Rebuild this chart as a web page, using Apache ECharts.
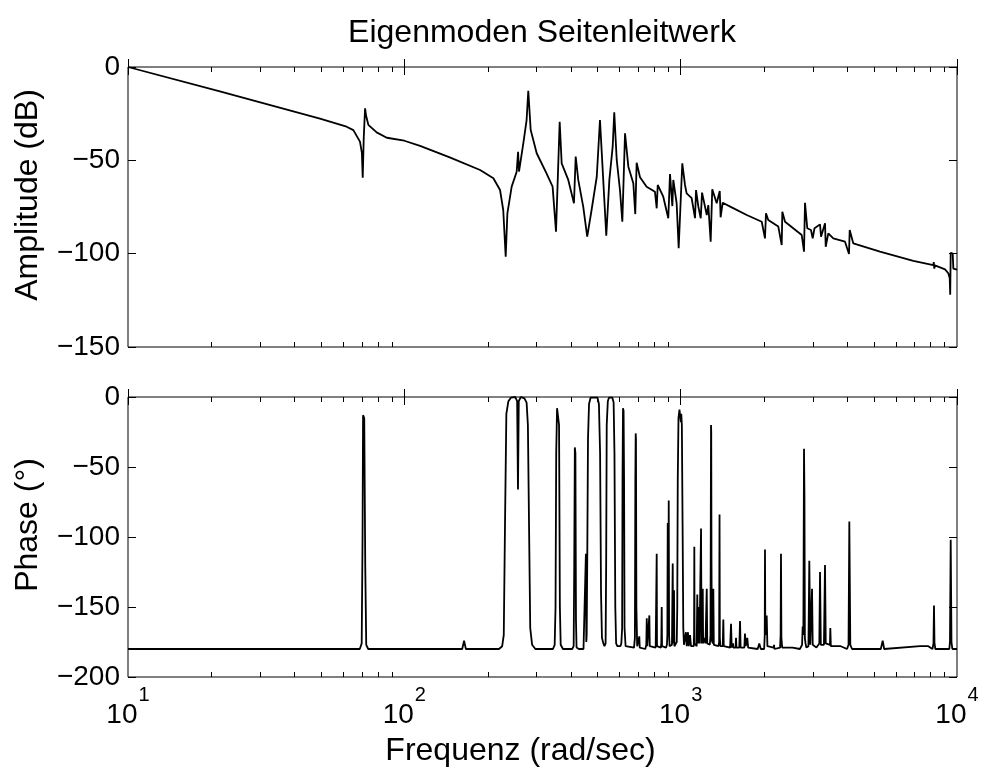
<!DOCTYPE html>
<html>
<head>
<meta charset="utf-8">
<script src="https://cdn.jsdelivr.net/npm/echarts@6/dist/echarts.min.js"></script>
<style>
html,body{margin:0;padding:0;background:#fff;}
#chart{width:982px;height:773px;}
</style>
</head>
<body>
<div id="chart"></div>
<script>
// ---- data ----
const ampFreq = [10,21.5,49.5,61.8,65.4,69.1,70.2,70.7,71.3,72.1,72.7,74.1,79.4,86.4,100,114,146,188,210,222,228,232.7,236,244.6,255,258,260,269.5,277,280.9,286.6,301.3,327,344,353.9,364.9,371,392,411,417,426,444,459,476,497,510.5,538,552,567.5,575,587,603,615,629,646.6,674,685,693,712.7,753,807,819,826,865,902,915,933,940.5,967,983.5,1013.6,1036.7,1051,1096,1127,1136.7,1158.7,1182,1195,1243,1259,1284,1301,1350,1385,1395,1419,1530,1734,1965,2019,2036,2075,2256,2321,2333,2386,2742,2795,2818,2872,2962,3005,3050,3194,3221,3330,3349,3422,3567,3933,4066,4090,4215,5264,6950,8207,8240,8277,8320,9050,9301,9410,9450,9489,9649,9700,10000];
const ampDb = [0,-13,-27.6,-32,-33.8,-40,-46,-59.3,-38,-22.1,-26,-31,-35,-37.9,-39.5,-42.3,-48.4,-55.2,-59.6,-65.9,-76.6,-101.6,-78.4,-64.1,-56.1,-45.4,-56,-40.9,-28.4,-12.7,-33.8,-46.2,-57,-64.1,-88.2,-29.3,-51.6,-60.5,-73,-48,-60.5,-74.8,-90.9,-76.6,-58.8,-28.4,-90.4,-60.5,-42.7,-24.3,-49.8,-65.9,-82.9,-35.5,-53.4,-62.3,-78.8,-51.3,-59.1,-64.1,-66.8,-75.7,-63.2,-69.5,-81,-57.3,-74.5,-60.5,-73,-97.1,-51.6,-63.2,-67.7,-70.3,-81,-65.9,-74.8,-81,-67.3,-79.3,-74,-93.6,-65.5,-73,-66.4,-80.5,-72.7,-75.2,-79.3,-82.9,-91.8,-78.4,-82,-85.5,-95.4,-77.5,-82.9,-90,-98.9,-72.7,-86.4,-87.3,-91.8,-86.4,-84.3,-90.9,-83.7,-96.3,-89.1,-91.8,-93.6,-100.2,-87.3,-94.5,-98.9,-103.8,-106.1,-104.5,-108,-106.3,-108.4,-110.5,-113,-122,-99.5,-100,-108,-108.5];

const phaseFreq = [10,69,70.1,70.6,70.9,71.6,72.2,72.8,74,162,164.5,167,220,226,229,231.4,234,238,243,252,256,257.8,259.5,264,272,277,280,282.6,285.5,290,298,345,350,352.5,354.5,357,360,363,365.5,368,375,405,410,412,414,416,418,420,428,445,452,454,455.5,457,459,462,466,472,500,506,511,515,519,525,530,535,537.5,540,545,550,566,572,576,580,584,590,605,610,614,616,618.5,621.5,624,626.5,632,678,683,685.5,687.5,689,691.5,696,705,708.4,711,745,751,753.9,757,766,770.3,773,812,817,819,821,848,851,853.9,856,885,892,895,897.8,900,902.5,905.3,908,912,925,930,935.9,939,943,946.1,949,960,968,972,976,982,990,996,1002,1005,1010,1016,1022,1028,1038,1045,1052,1063,1070,1081,1090,1115,1118,1120.5,1123,1143,1148.6,1153,1160,1165,1170,1180,1185,1190,1198,1202,1206,1220,1230,1242.6,1248,1275,1282,1285,1287.9,1290,1293,1297,1308,1312.7,1318,1370,1378,1382.5,1386,1392,1420,1426.9,1432,1510,1521.5,1530,1547,1552,1580,1586,1592,1630,1640,1648,1700,1709,1720,1742,1755,1900,1925,1950,2005,2015,2019,2025,2048,2060,2170,2177,2185,2290,2300,2307,2315,2330,2540,2560,2580,2700,2750,2764,2780,2795,2805,2815,2830,2850,2900,2921,2945,2965,2988,3005,3100,3133,3175,3194,3215,3300,3329,3350,3470,3480,3495,3650,3796,4000,4050,4077,4110,4170,5300,5384,5450,7348,7875,8150,8220,8255,8290,8350,9380,9430,9489,9550,9620,10000];
const phaseDeg = [-180,-180,-176,-100,-13,-15,-120,-177,-180,-180,-174,-180,-180,-178,-170,-90,-12,-3,-0.5,0,-3,-66,-3,0,-1,-4,-20,-90,-165,-177,-180,-180,-177,-150,-40,-8,-7,-20,-150,-177,-180,-180,-178,-120,-36,-40,-160,-179,-180,-180,-179,-112,-175,-170,-120,-30,-5,-0.5,-0.5,-5,-40,-140,-172,-176,-178,-176,-120,-20,-3,-0.5,-0.5,-4,-40,-150,-176,-178,-178,-176,-165,-60,-8,-10,-60,-165,-178,-179,-172,-60,-26,-30,-150,-178,-179,-171,-179,-180,-177,-158,-178,-178,-156,-178,-179,-178,-112,-178,-179,-176,-150,-178,-179,-177,-170,-90,-168,-170,-74,-170,-178,-178,-177,-119,-176,-176,-138,-178,-179,-175,-150,-60,-15,-9,-9,-18,-12,-20,-90,-165,-177,-178,-168,-178,-168,-178,-170,-178,-178,-170,-107,-176,-178,-141,-176,-175,-150,-176,-177,-94,-176,-175,-137,-176,-172,-176,-137,-176,-177,-170,-100,-20,-25,-120,-174,-176,-137,-177,-178,-175,-84,-172,-178,-178,-159,-178,-179,-162,-179,-176,-179,-179,-172,-179,-179,-160,-179,-179,-169,-178,-172,-179,-180,-176,-180,-180,-170,-109,-170,-156,-178,-179,-177,-180,-179,-170,-112,-172,-179,-179,-178,-179,-180,-177,-164,-170,-37,-70,-172,-176,-179,-178,-117,-177,-176,-137,-177,-179,-178,-176,-125,-177,-177,-120,-176,-177,-165,-178,-178,-178,-180,-177,-89,-177,-180,-180,-174,-180,-178,-178,-180,-176,-149,-176,-180,-180,-175,-102,-175,-180,-180];

const majorTicks = [10, 100, 1000, 10000];
const minorTicks = [20,30,40,50,60,70,80,90,200,300,400,500,600,700,800,900,2000,3000,4000,5000,6000,7000,8000,9000];
const ampTicks = [-150, -100, -50, 0];
const phaseTicks = [-200, -150, -100, -50, 0];

const titleText = 'Eigenmoden Seitenleitwerk';
const ampLabel = 'Amplitude (dB)';
const phaseLabel = 'Phase (°)';
const freqLabel = 'Frequenz (rad/sec)';

// ---- chart ----
const FONT = '"Liberation Sans", Arial, Helvetica, sans-serif';
const TICK_FS = 28;
const LABEL_FS = 32;
const chart = echarts.init(document.getElementById('chart'), null, {renderer: 'canvas'});

function zip(a, b) { return a.map((v, i) => [v, b[i]]); }
function minus(v) { return v < 0 ? '\u2212' + (-v) : String(v); }

const gridBase = {left: 128, width: 829, height: 280, show: true, borderColor: '#000', borderWidth: 1, backgroundColor: '#fff', containLabel: false, outerBoundsMode: 'none'};

function xAx(gridIndex, position, showLabels, name) {
  return {
    type: 'log', logBase: 10, min: majorTicks[0], max: majorTicks[majorTicks.length - 1],
    gridIndex: gridIndex, position: position,
    axisLine: {show: false},
    axisTick: {show: true, inside: true, length: 8, lineStyle: {color: '#000', width: 1}},
    splitLine: {show: false},
    axisLabel: showLabels ? {
      show: true, margin: 8, color: '#000', fontFamily: FONT,
      formatter: function (v) { return '{b|10}{s|' + Math.round(Math.log10(v)) + '}'; },
      rich: {
        b: {fontSize: TICK_FS, fontFamily: FONT, color: '#000', lineHeight: 44, verticalAlign: 'bottom'},
        s: {fontSize: 20, fontFamily: FONT, color: '#000', verticalAlign: 'top', lineHeight: 20, padding: [0, 0, 0, 1]}
      }
    } : {show: false},
    name: name || '', nameLocation: 'middle', nameGap: 58,
    nameTextStyle: {fontSize: LABEL_FS, fontFamily: FONT, color: '#000', padding: [0, 44, 0, 0]}
  };
}

function yAx(gridIndex, position, ticks, showLabels, name) {
  return {
    type: 'value', min: ticks[0], max: ticks[ticks.length - 1], interval: 50,
    gridIndex: gridIndex, position: position,
    axisLine: {show: false},
    axisTick: {show: true, inside: true, length: 8, lineStyle: {color: '#000', width: 1}},
    splitLine: {show: false},
    axisLabel: showLabels ? {show: true, margin: 8, fontSize: TICK_FS, fontFamily: FONT, color: '#000', formatter: minus} : {show: false},
    name: name || '', nameLocation: 'middle', nameGap: 84, nameRotate: 90,
    nameTextStyle: {fontSize: LABEL_FS, fontFamily: FONT, color: '#000', padding: [0, 0, 0, 24]}
  };
}

function minorSeries(xi, yi, yMin) {
  return {
    type: 'custom', xAxisIndex: xi, yAxisIndex: yi, silent: true, clip: false, z: 5,
    data: minorTicks.map(v => [v, yMin]),
    renderItem: function (params, api) {
      const p = api.coord([api.value(0), api.value(1)]);
      const cs = params.coordSys;
      const x = Math.round(p[0]) + 0.5;
      const yb = cs.y + cs.height, yt = cs.y;
      return {type: 'group', children: [
        {type: 'line', shape: {x1: x, y1: yb, x2: x, y2: yb - 5}, style: {stroke: '#000', lineWidth: 1}},
        {type: 'line', shape: {x1: x, y1: yt, x2: x, y2: yt + 5}, style: {stroke: '#000', lineWidth: 1}}
      ]};
    }
  };
}

const option = {
  backgroundColor: '#fff',
  animation: false,
  title: {
    text: titleText, left: 537, top: 12, textAlign: 'center',
    textStyle: {fontSize: LABEL_FS, fontWeight: 'normal', fontFamily: FONT, color: '#000'}
  },
  grid: [
    Object.assign({}, gridBase, {top: 67}),
    Object.assign({}, gridBase, {top: 397})
  ],
  xAxis: [
    xAx(0, 'bottom', false),
    xAx(1, 'bottom', true, freqLabel),
    xAx(0, 'top', false),
    xAx(1, 'top', false)
  ],
  yAxis: [
    yAx(0, 'left', ampTicks, true, ampLabel),
    yAx(1, 'left', phaseTicks, true, phaseLabel),
    yAx(0, 'right', ampTicks, false),
    yAx(1, 'right', phaseTicks, false)
  ],
  series: [
    {
      type: 'line', xAxisIndex: 0, yAxisIndex: 0, data: zip(ampFreq, ampDb),
      showSymbol: false, symbol: 'none', clip: true, z: 3,
      lineStyle: {color: '#000', width: 1.8}
    },
    {
      type: 'line', xAxisIndex: 1, yAxisIndex: 1, data: zip(phaseFreq, phaseDeg),
      showSymbol: false, symbol: 'none', clip: true, z: 3,
      lineStyle: {color: '#000', width: 1.8}
    },
    minorSeries(0, 0, ampTicks[0]),
    minorSeries(1, 1, phaseTicks[0])
  ]
};
chart.setOption(option);
</script>
</body>
</html>
